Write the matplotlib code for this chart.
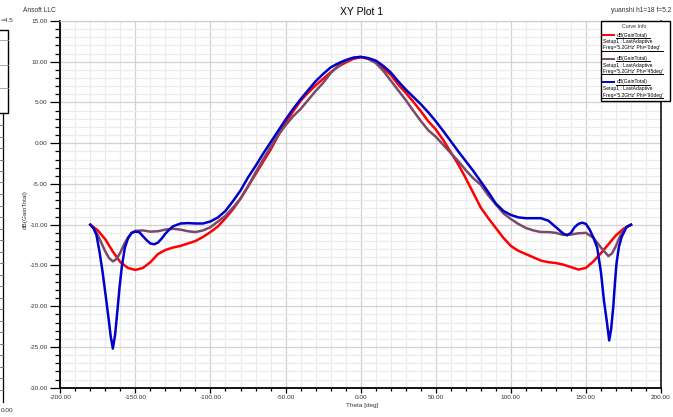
import matplotlib
matplotlib.use("Agg")
import matplotlib.pyplot as plt
from matplotlib.ticker import MultipleLocator, FormatStrFormatter
from matplotlib.patches import Rectangle
from matplotlib.lines import Line2D

plt.rcParams['font.family'] = ['Liberation Sans', 'DejaVu Sans']

# ---------------- data ----------------
theta_red = [-180, -175, -170, -165, -160, -155, -150, -145, -140, -135, -130, -125, -120,
             -115, -110, -105, -100, -95, -90, -85, -80, -75, -70, -65, -60, -55, -50, -45,
             -40, -35, -30, -25, -20, -15, -10, -5, 0, 5, 10, 15, 20, 25, 30, 35, 40, 45, 50,
             55, 60, 65, 70, 75, 80, 85, 90, 95, 100, 105, 110, 115, 120, 125, 130, 135, 140,
             145, 150, 155, 160, 165, 170, 175, 180]
gain_red = [-10.0, -10.7, -11.8, -13.3, -14.6, -15.3, -15.55, -15.3, -14.6, -13.6, -13.1, -12.8,
            -12.6, -12.3, -12.0, -11.5, -10.9, -10.2, -9.2, -8.1, -6.8, -5.3, -3.8, -2.3, -0.8,
            0.9, 2.5, 3.9, 5.2, 6.2, 7.1, 7.9, 8.7, 9.4, 9.9, 10.35, 10.55, 10.4, 9.95, 9.2, 8.4,
            7.2, 6.2, 5.1, 3.95, 2.7, 1.7, 0.4, -1.1, -2.6, -4.3, -6.1, -7.9, -9.2, -10.4, -11.6,
            -12.6, -13.2, -13.6, -14.0, -14.4, -14.6, -14.7, -14.9, -15.2, -15.5, -15.3, -14.5,
            -13.5, -12.4, -11.3, -10.5, -10.0]

theta_purple = [-180, -177.5, -175, -172.5, -170, -167.5, -165, -162.5, -160, -157.5, -155,
                -152.5, -150, -145, -140, -135, -130, -125, -120, -115, -110, -105, -100, -95,
                -90, -85, -80, -75, -70, -65, -60, -55, -50, -45, -40, -35, -30, -25, -20, -15,
                -10, -5, 0, 5, 10, 15, 20, 25, 30, 35, 40, 45, 50, 55, 60, 65, 70, 75, 80, 85,
                90, 95, 100, 105, 110, 115, 120, 125, 130, 135, 140, 145, 150, 155, 160, 165,
                167.5, 170, 172.5, 175, 177.5, 180]
gain_purple = [-10.0, -10.5, -11.3, -12.3, -13.3, -14.1, -14.5, -14.2, -13.4, -12.4, -11.6,
               -11.0, -10.75, -10.7, -10.85, -10.8, -10.6, -10.5, -10.6, -10.8, -10.9, -10.7,
               -10.3, -9.6, -8.9, -7.9, -6.8, -5.3, -3.6, -2.0, -0.5, 1.0, 2.2, 3.3, 4.2, 5.3,
               6.4, 7.4, 8.6, 9.5, 10.1, 10.45, 10.6, 10.35, 9.85, 8.9, 7.7, 6.5, 5.3, 4.0, 2.75,
               1.6, 0.8, -0.2, -1.2, -2.2, -3.3, -4.3, -5.1, -6.4, -7.5, -8.6, -9.3, -9.9, -10.4,
               -10.7, -10.9, -10.9, -11.0, -11.25, -11.2, -11.05, -11.0, -11.6, -12.8, -13.85,
               -13.5, -12.6, -11.5, -10.7, -10.2, -10.0]

theta_blue = [-180, -178, -176, -174, -172, -170, -168, -166.5, -165, -163.5, -162, -160.5, -159,
              -157, -155, -152.5, -150, -147.5, -145, -142.5, -140, -137.5, -135, -132.5, -130,
              -127.5, -125, -120, -115, -110, -105, -100, -95, -90, -85, -80, -75, -70, -65, -60,
              -55, -50, -45, -40, -35, -30, -25, -20, -15, -10, -5, 0, 5, 10, 15, 20, 25, 30, 35,
              40, 45, 50, 55, 60, 65, 70, 75, 80, 85, 90, 95, 100, 105, 110, 115, 120, 125, 130,
              135, 137.5, 140, 142.5, 145, 147.5, 150, 152.5, 155, 157.5, 160, 162, 163.8, 165.5,
              166.8, 168.2, 169.3, 170.4, 172, 173.8, 177, 180]
gain_blue = [-10.0, -10.4, -11.2, -13.2, -15.6, -18.4, -21.3, -23.6, -25.2, -23.5, -20.6, -17.6,
             -15.1, -12.8, -11.7, -11.0, -10.85, -10.9, -11.4, -11.9, -12.3, -12.4, -12.2, -11.7,
             -11.1, -10.6, -10.2, -9.85, -9.8, -9.85, -9.85, -9.6, -9.1, -8.3, -7.1, -5.8, -4.2,
             -2.8, -1.3, 0.1, 1.5, 2.9, 4.2, 5.4, 6.5, 7.6, 8.5, 9.3, 9.8, 10.2, 10.5, 10.6,
             10.45, 10.15, 9.5, 8.7, 7.6, 6.6, 5.7, 4.8, 3.8, 2.7, 1.5, 0.25, -1.0, -2.2, -3.4,
             -4.7, -6.0, -7.4, -8.3, -8.8, -9.1, -9.2, -9.2, -9.2, -9.5, -10.3, -11.1, -11.3,
             -11.0, -10.3, -9.9, -9.75, -9.9, -10.6, -11.6, -12.8, -15.8, -19.3, -21.7, -24.2,
             -22.8, -20.1, -17.2, -14.7, -12.7, -11.5, -10.3, -10.0]

x_ticks = [-200, -150, -100, -50, 0, 50, 100, 150, 200]
y_ticks = [15, 10, 5, 0, -5, -10, -15, -20, -25, -30]
legend_phis = ["0deg", "45deg", "90deg"]

c_red = "#ff0000"
c_purple = "#7a4a6a"
c_blue = "#0000c8"

# ---------------- figure ----------------
W, H = 673, 417
fig = plt.figure(figsize=(W / 100, H / 100), dpi=100)


def fx(x):
    return x / W


def fy(y):
    return 1 - y / H


ax = fig.add_axes([fx(60.3), fy(387.7), fx(661) - fx(60.3), fy(21) - fy(387.7)])
ax.plot(theta_red, gain_red, color=c_red, lw=1.8, zorder=3)
ax.plot(theta_purple, gain_purple, color=c_purple, lw=1.8, zorder=3)
ax.plot(theta_blue, gain_blue, color=c_blue, lw=1.8, zorder=4)

ax.set_xlim(-200, 200)
ax.set_ylim(-30, 15)
ax.set_xticks(x_ticks)
ax.set_yticks(y_ticks)
ax.xaxis.set_minor_locator(MultipleLocator(10))
ax.yaxis.set_minor_locator(MultipleLocator(1))
ax.xaxis.set_major_formatter(FormatStrFormatter('%.2f'))
ax.yaxis.set_major_formatter(FormatStrFormatter('%.2f'))
ax.grid(which='major', color='#d2d2d2', lw=0.9)
ax.grid(which='minor', color='#ebebeb', lw=0.9)
ax.set_axisbelow(True)
ax.tick_params(axis='both', which='both', direction='out', colors='black',
               labelsize=4.6, labelcolor='#333333', width=0.9)
ax.tick_params(axis='y', which='major', length=7, pad=2)
ax.tick_params(axis='y', which='minor', length=3.5)
ax.tick_params(axis='x', which='major', length=3.5, pad=2)
ax.tick_params(axis='x', which='minor', length=2)
for s in ['left', 'bottom']:
    ax.spines[s].set_linewidth(1.3)
    ax.spines[s].set_color('black')
ax.spines['right'].set_linewidth(1.1)
ax.spines['right'].set_color('black')
ax.spines['top'].set_color('#cfcfcf')
ax.spines['top'].set_linewidth(0.9)

fig.text(fx(362), fy(406), "Theta [deg]", fontsize=4.6, ha='center', va='center', color='#333333')
fig.text(fx(25), fy(210), "dB(GainTotal)", fontsize=4.6, ha='center', va='center',
         rotation=90, color='#333333')
fig.text(fx(362), fy(12), "XY Plot 1", fontsize=7.5, ha='center', va='center')
fig.text(fx(23), fy(10), "Ansoft LLC", fontsize=4.8, ha='left', va='center', color='#333333')
fig.text(fx(671), fy(10), "yuanshi h1=18 f=5.2", fontsize=4.8, ha='right', va='center',
         color='#333333')

# ---------------- legend box (Curve Info) ----------------
L, T, R, B = 601, 21, 670, 101
fig.add_artist(Rectangle((fx(L), fy(B)), fx(R) - fx(L), fy(T) - fy(B),
                         transform=fig.transFigure, facecolor='white', edgecolor='black',
                         lw=1.0, zorder=10))
fig.text(fx(634), fy(26), "Curve Info", fontsize=3.8, ha='center', va='center', zorder=11,
         color='#333333')
for i, (phi, col) in enumerate(zip(legend_phis, [c_red, c_purple, c_blue])):
    y0 = 35 + i * 23.5
    fig.add_artist(Line2D([fx(603), fx(614)], [fy(y0), fy(y0)], color=col, lw=1.4,
                          transform=fig.transFigure, zorder=11))
    fig.text(fx(617), fy(y0), "dB(GainTotal)", fontsize=3.6, ha='left', va='center', zorder=11)
    fig.add_artist(Line2D([fx(616), fx(650)], [fy(y0 + 2.8), fy(y0 + 2.8)], color='black',
                          lw=0.7, transform=fig.transFigure, zorder=11))
    fig.text(fx(603), fy(y0 + 6.5), "Setup1 : LastAdaptive", fontsize=3.6, ha='left',
             va='center', zorder=11)
    fig.text(fx(603), fy(y0 + 13), "Freq='5.2GHz' Phi='%s'" % phi, fontsize=3.6, ha='left',
             va='center', zorder=11)
    fig.add_artist(Line2D([fx(602), fx(663)], [fy(y0 + 15.8), fy(y0 + 15.8)], color='black',
                          lw=0.7, transform=fig.transFigure, zorder=11))

# ---------------- fragment of neighbouring window at left edge ----------------
fig.text(fx(0.5), fy(20), "=4.5", fontsize=4.6, ha='left', va='center', color='#333333')
fig.add_artist(Rectangle((fx(-5), fy(113)), fx(13), fy(30) - fy(113),
                         transform=fig.transFigure, facecolor='none', edgecolor='black', lw=1.0))
for yy in [40, 65, 88]:
    fig.add_artist(Line2D([fx(0), fx(8)], [fy(yy), fy(yy)], color='#999999', lw=0.6,
                          transform=fig.transFigure))
fig.add_artist(Line2D([fx(3), fx(3)], [fy(113), fy(402)], color='black', lw=0.9,
                      transform=fig.transFigure))
for k in range(24):
    yy = 125 + k * 11.5
    fig.add_artist(Line2D([fx(0), fx(3)], [fy(yy), fy(yy)], color='#666666', lw=0.6,
                          transform=fig.transFigure))
fig.text(fx(0.5), fy(410), "0.00", fontsize=4.6, ha='left', va='center', color='#333333')

fig.savefig("out.png", dpi=100)
